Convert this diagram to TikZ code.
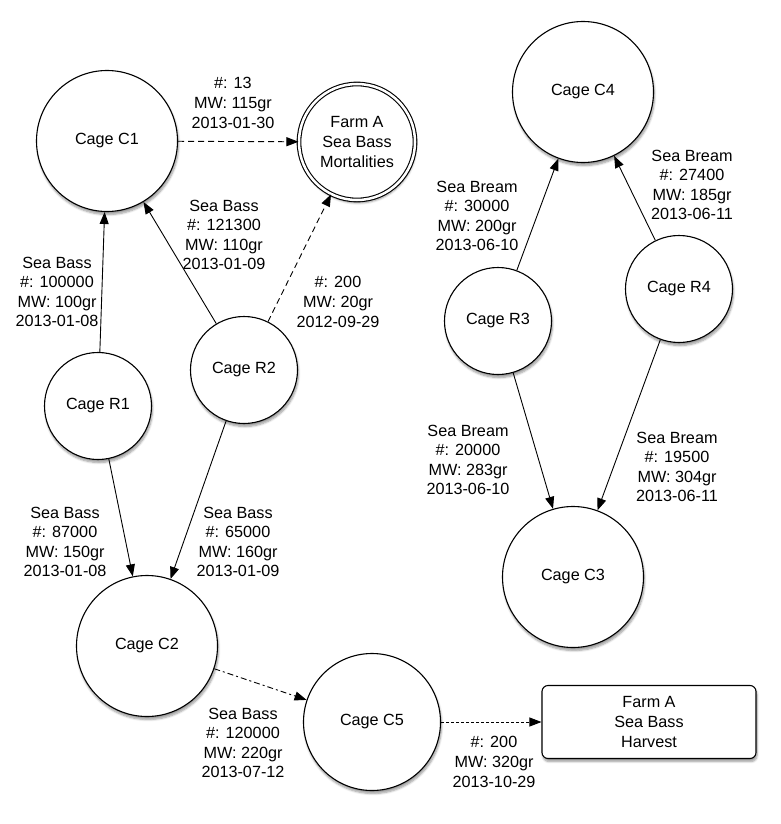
\documentclass[tikz,border=0pt]{standalone}
\usepackage{fontspec}
\setmainfont{Liberation Sans}
\usetikzlibrary{arrows.meta,shadows.blur}
\begin{document}
\begin{tikzpicture}[x=1pt,y=-1pt,
  every node/.style={font=\fontsize{16.2}{19.6}\selectfont, align=center},
  cage/.style={circle, draw, line width=1.1pt, fill=white, inner sep=0pt,
    blur shadow={shadow xshift=1pt, shadow yshift=-3pt, shadow blur steps=6, shadow opacity=40}},
  bigcage/.style={cage, minimum size=141pt},
  smallcage/.style={cage, minimum size=107pt},
  lbl/.style={inner sep=0pt},
  flow/.style={line width=0.9pt, -{Triangle[length=12pt,width=9pt]}},
  dashflow/.style={flow, dash pattern=on 6pt off 4pt},
  dotflow/.style={flow, dash pattern=on 3pt off 2pt},
  dashdotflow/.style={flow, dash pattern=on 6pt off 3pt on 2pt off 3pt}]
\useasboundingbox (0,0) rectangle (781,824);

\node[bigcage] (C1) at (107,141) {Cage C1};
\node[cage, double, double distance=2.5pt, minimum size=116pt] (M) at (357,142) {Farm A\\Sea Bass\\Mortalities};
\node[smallcage] (R1) at (98,406) {Cage R1};
\node[smallcage] (R2) at (244,370) {Cage R2};
\node[bigcage] (C2) at (147,646) {Cage C2};
\node[cage, minimum size=137pt] (C5) at (372,722) {Cage C5};
\node[draw, line width=1.1pt, fill=white, rounded corners=6pt, minimum width=214pt, minimum height=73pt,
  blur shadow={shadow xshift=1pt, shadow yshift=-3pt, shadow blur steps=6, shadow opacity=40}] (H) at (649,722) {Farm A\\Sea Bass\\Harvest};
\node[bigcage] (C4) at (583,92) {Cage C4};
\node[smallcage] (R3) at (498,321) {Cage R3};
\node[smallcage] (R4) at (679,289) {Cage R4};
\node[bigcage] (C3) at (573,577) {Cage C3};

\draw[flow] (R1) -- (C1);
\draw[flow] (R2) -- (C1);
\draw[dashflow] (R2) -- (M);
\draw[dashflow] (C1) -- (M);
\draw[flow] (R1) -- (C2);
\draw[flow] (R2) -- (C2);
\draw[dashdotflow] (C2) -- (C5);
\draw[dotflow] (C5) -- (H);
\draw[flow] (R3) -- (C4);
\draw[flow] (R4) -- (C4);
\draw[flow] (R3) -- (C3);
\draw[flow] (R4) -- (C3);

\node[lbl] (l1) at (57,292) {Sea Bass\\\#: 100000\\MW: 100gr\\2013-01-08};
\node[lbl] (l2) at (224,235) {Sea Bass\\\#: 121300\\MW: 110gr\\2013-01-09};
\node[lbl] (l3) at (338,302) {\#: 200\\MW: 20gr\\2012-09-29};
\node[lbl] (l4) at (233,103) {\#: 13\\MW: 115gr\\2013-01-30};
\node[lbl] (l5) at (65,542) {Sea Bass\\\#: 87000\\MW: 150gr\\2013-01-08};
\node[lbl] (l6) at (238,542) {Sea Bass\\\#: 65000\\MW: 160gr\\2013-01-09};
\node[lbl] (l7) at (243,743) {Sea Bass\\\#: 120000\\MW: 220gr\\2013-07-12};
\node[lbl] (l8) at (494,762) {\#: 200\\MW: 320gr\\2013-10-29};
\node[lbl] (l9) at (477,216) {Sea Bream\\\#: 30000\\MW: 200gr\\2013-06-10};
\node[lbl] (l10) at (692,185) {Sea Bream\\\#: 27400\\MW: 185gr\\2013-06-11};
\node[lbl] (l11) at (468,460) {Sea Bream\\\#: 20000\\MW: 283gr\\2013-06-10};
\node[lbl] (l12) at (677,467) {Sea Bream\\\#: 19500\\MW: 304gr\\2013-06-11};
\end{tikzpicture}
\end{document}
